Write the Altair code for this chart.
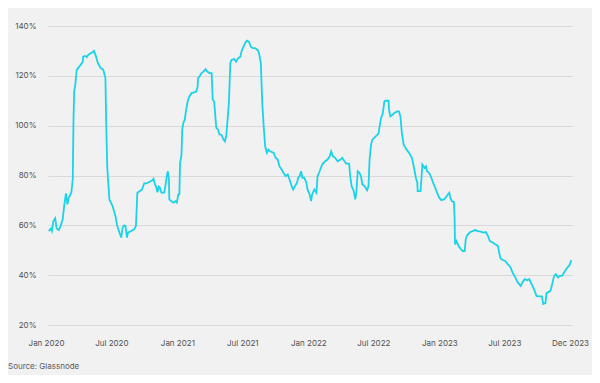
import altair as alt
import pandas as pd

# days since 2020-01-01
day_offsets = [
    2, 8, 11, 15, 20, 24, 30, 35, 41, 45, 50, 54, 58, 65, 69, 71, 73, 76, 80, 86,
    91, 97, 98, 104, 108, 112, 119, 125, 128, 134, 139, 147, 154, 160, 162, 165, 171, 180, 188, 193,
    199, 204, 208, 212, 216, 220, 223, 232, 240, 245, 249, 255, 262, 268, 275, 283, 290, 294, 298, 301,
    305, 309, 312, 316, 324, 327, 331, 334, 337, 338, 344, 350, 355, 359, 363, 366, 368, 372, 374, 377,
    381, 385, 389, 394, 400, 405, 413, 417, 418, 422, 428, 433, 439, 444, 450, 456, 459, 463, 467, 469,
    474, 478, 483, 489, 493, 497, 500, 504, 508, 511, 519, 524, 530, 536, 539, 543, 549, 554, 560, 565,
    571, 577, 584, 588, 593, 597, 601, 605, 610, 614, 619, 629, 634, 640, 645, 651, 656, 662, 668, 673,
    679, 683, 688, 694, 697, 701, 705, 709, 714, 720, 723, 729, 733, 736, 742, 748, 751, 757, 764, 772,
    779, 785, 789, 794, 800, 807, 815, 820, 826, 831, 839, 842, 846, 852, 856, 859, 863, 868, 872, 876,
    882, 885, 889, 893, 896, 900, 904, 909, 915, 921, 924, 928, 932, 935, 937, 941, 949, 950, 954, 960,
    965, 973, 978, 982, 986, 991, 999, 1006, 1014, 1019, 1025, 1029, 1030, 1038, 1041, 1043, 1049, 1053, 1056, 1062,
    1068, 1073, 1079, 1084, 1090, 1096, 1103, 1108, 1114, 1118, 1121, 1125, 1131, 1133, 1134, 1138, 1144, 1149, 1155, 1161,
    1164, 1168, 1175, 1183, 1190, 1198, 1205, 1213, 1220, 1226, 1231, 1239, 1246, 1254, 1257, 1261, 1267, 1274, 1281, 1289,
    1294, 1302, 1309, 1317, 1322, 1328, 1335, 1341, 1345, 1350, 1356, 1361, 1369, 1376, 1380, 1386, 1389, 1395, 1400, 1406,
    1410, 1415, 1421, 1426, 1432, 1438, 1445, 1453, 1458,
]

values = [
    57.7, 58.7, 57.7, 61.7, 62.8, 58.7, 58.1, 59.7, 62.4, 67.7, 72.8, 68.4, 71.1, 73.1, 78.4, 102.4, 113.7, 116.4, 122.4, 123.5,
    124.4, 125.7, 127.7, 128.0, 127.5, 128.4, 129.1, 129.5, 130.0, 127.7, 125.1, 123.1, 122.4, 119.1, 102.4, 83.7, 70.4, 67.7, 63.7, 59.7,
    57.1, 55.1, 59.1, 60.0, 59.7, 55.1, 57.1, 57.7, 58.4, 59.7, 73.1, 73.7, 74.4, 76.8, 76.8, 77.5, 78.0, 78.7, 76.4, 75.7,
    73.3, 75.5, 75.1, 73.1, 73.1, 75.7, 79.7, 81.7, 78.4, 70.4, 69.7, 69.1, 69.7, 69.1, 72.4, 72.4, 85.1, 88.4, 98.4, 101.1,
    102.4, 106.4, 109.7, 111.7, 113.1, 113.3, 113.7, 115.7, 119.1, 119.7, 121.1, 121.7, 122.7, 121.7, 121.1, 121.1, 110.4, 109.7, 102.4, 99.1,
    98.4, 96.4, 96.4, 94.4, 93.7, 96.4, 101.7, 109.1, 125.1, 126.4, 126.7, 125.7, 127.1, 127.7, 129.7, 131.1, 133.1, 134.1, 133.7, 131.7,
    131.1, 131.1, 130.4, 129.1, 125.1, 109.1, 99.7, 91.7, 89.1, 90.4, 89.7, 89.1, 87.1, 86.4, 83.7, 82.4, 81.1, 79.7, 80.4, 78.4,
    75.7, 74.4, 75.7, 77.1, 79.1, 79.7, 81.7, 79.1, 79.1, 77.1, 74.4, 72.4, 69.7, 72.4, 74.4, 73.1, 79.7, 81.7, 84.4, 85.7,
    86.4, 87.7, 89.7, 87.7, 87.1, 85.7, 86.4, 87.1, 85.7, 84.8, 84.8, 79.7, 75.7, 73.7, 70.4, 73.1, 81.7, 81.1, 79.7, 76.4,
    75.7, 75.1, 74.1, 75.7, 86.4, 92.4, 94.4, 95.1, 96.0, 96.8, 99.7, 103.1, 104.4, 107.1, 109.7, 110.0, 110.0, 106.4, 103.7, 104.4,
    105.1, 105.7, 105.7, 103.7, 97.1, 92.4, 90.4, 89.1, 87.1, 83.7, 79.1, 77.1, 73.7, 73.7, 79.7, 84.4, 83.1, 83.7, 81.7, 81.1,
    79.1, 77.1, 75.1, 73.1, 71.1, 70.1, 70.4, 71.1, 72.4, 73.1, 71.1, 69.7, 69.3, 62.4, 52.4, 53.7, 51.7, 50.7, 49.7, 49.7,
    54.4, 56.0, 57.1, 57.7, 58.1, 57.7, 57.5, 57.1, 57.3, 55.7, 53.7, 53.1, 52.4, 51.7, 49.1, 46.7, 46.1, 45.7, 44.4, 43.1,
    41.1, 39.1, 37.1, 35.7, 37.1, 38.4, 38.0, 38.4, 37.1, 35.7, 33.7, 31.7, 31.5, 31.5, 28.4, 28.8, 32.8, 33.3, 33.7, 37.1,
    39.7, 40.4, 39.1, 39.7, 39.7, 41.1, 42.7, 44.0, 46.1,
]

tick_dates = [(2020, 1, 1), (2020, 7, 1), (2021, 1, 1), (2021, 7, 1), (2022, 1, 1),
              (2022, 7, 1), (2023, 1, 1), (2023, 7, 1), (2023, 12, 31)]
y_ticks = [20, 40, 60, 80, 100, 120, 140]
source_text = "Source: Glassnode"

FONT = "Inter"
LABEL_COLOR = "#505050"

df = pd.DataFrame({
    "date": pd.Timestamp("2020-01-01") + pd.to_timedelta(day_offsets, unit="D"),
    "value": values,
})

line = alt.Chart(df).mark_line(color="#1ad3e8", strokeWidth=1.8).encode(
    x=alt.X("date:T",
            scale=alt.Scale(domain=[alt.DateTime(year=2020, month=1, date=1),
                                    alt.DateTime(year=2023, month=12, date=31)]),
            axis=alt.Axis(title=None, grid=False, ticks=False, domain=False,
                          values=[alt.DateTime(year=y, month=m, date=d) for y, m, d in tick_dates],
                          labelExpr="timeFormat(datum.value, '%b %Y')",
                          labelFlush=False, labelOffset=-2, labelPadding=14,
                          labelFont=FONT, labelFontSize=8, labelColor=LABEL_COLOR)),
    y=alt.Y("value:Q",
            scale=alt.Scale(domain=[20, 140], nice=False, zero=False),
            axis=alt.Axis(title=None, values=y_ticks, ticks=False, domain=False,
                          labelExpr="datum.value + '%'", labelPadding=12,
                          gridColor="#d9d9d9", gridWidth=1,
                          labelFont=FONT, labelFontSize=8, labelColor=LABEL_COLOR)),
)

src = alt.Chart(pd.DataFrame({"t": [source_text]})).mark_text(
    align="left", baseline="middle", font=FONT, fontSize=8, color="#5a5a5a"
).encode(text="t:N", x=alt.value(-40), y=alt.value(341))

chart = alt.layer(line, src).properties(
    width=524, height=299,
    autosize=alt.AutoSizeParams(type="none"),
    padding={"left": 40, "top": 18, "right": 20, "bottom": 50},
    background="#f1f1f1",
).configure_view(stroke=None)

chart.save("out.html", embed_options={"renderer": "svg", "actions": False})
